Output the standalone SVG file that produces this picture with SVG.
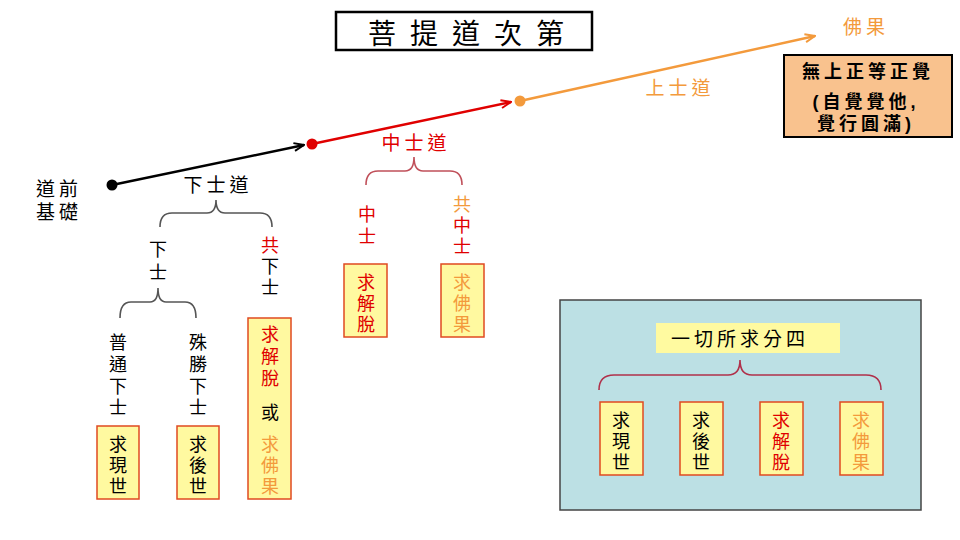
<svg xmlns="http://www.w3.org/2000/svg" width="960" height="540" viewBox="0 0 960 540">
<defs>
<style>
text{font-family:"Liberation Sans","Noto Sans CJK TC","Noto Sans CJK SC",sans-serif;font-size:18px;text-anchor:middle}
.k{fill:#000}
.r{fill:#E00000}
.o{fill:#F39A3C}
.box{fill:#FFF9A0;stroke:#E04A20;stroke-width:1.5}
.brg{fill:none;stroke:#555;stroke-width:1.6}
.brr{fill:none;stroke:#C0505A;stroke-width:1.6}
.brc{fill:none;stroke:#B0304A;stroke-width:1.6}
.h{font-size:19px;letter-spacing:4px}
.b{font-size:18px;font-weight:bold;letter-spacing:4px}
</style>
<marker id="ak" viewBox="0 0 12 10" refX="11" refY="5" markerWidth="12" markerHeight="10" markerUnits="userSpaceOnUse" orient="auto"><path d="M1,1 L11,5 L1,9" fill="none" stroke="#000" stroke-width="2"/></marker>
<marker id="ar" viewBox="0 0 12 10" refX="11" refY="5" markerWidth="12" markerHeight="10" markerUnits="userSpaceOnUse" orient="auto"><path d="M1,1 L11,5 L1,9" fill="none" stroke="#E00000" stroke-width="2"/></marker>
<marker id="ao" viewBox="0 0 12 10" refX="11" refY="5" markerWidth="12" markerHeight="10" markerUnits="userSpaceOnUse" orient="auto"><path d="M1,1 L11,5 L1,9" fill="none" stroke="#F39A3C" stroke-width="2"/></marker>
</defs>

<g id="title">
<rect x="336" y="12" width="256" height="38" fill="#fff" stroke="#000" stroke-width="2.5"/>
<text x="382 424 466 508 550" y="44" style="font-size:28px" class="k">菩提道次第</text>
</g>

<g id="panel">
<rect x="560" y="300" width="361" height="210" fill="#BCE0E4" stroke="#444" stroke-width="1.5"/>
<rect x="656" y="323" width="184" height="30" fill="#FFFAA0"/>
<text x="740" y="346" class="k h">一切所求分四</text>
</g>

<g id="connectors">
<line x1="112" y1="185" x2="304" y2="145" stroke="#000" stroke-width="2.5" marker-end="url(#ak)"/>
<line x1="312" y1="144" x2="511" y2="102" stroke="#E00000" stroke-width="2.5" marker-end="url(#ar)"/>
<line x1="520" y1="101" x2="815" y2="36" stroke="#F39A3C" stroke-width="2.5" marker-end="url(#ao)"/>
<path class="brg" d="M160,227 Q160,213 172,213 L207,213 Q216,213 216,200 Q216,213 225,213 L260,213 Q272,213 272,227"/>
<path class="brg" d="M120,318 Q120,302 131,302 L150,302 Q158,302 158,288 Q158,302 166,302 L185,302 Q196,302 196,318"/>
<path class="brr" d="M366,185 Q366,171 378,171 L405,171 Q414,171 414,157 Q414,171 423,171 L450,171 Q462,171 462,185"/>
<path class="brc" d="M599,390 Q599,375 614,375 L728,375 Q740,375 740,360 Q740,375 752,375 L866,375 Q881,375 881,390"/>
</g>

<g id="start">
<circle cx="112" cy="185" r="5.5" fill="#000"/>
<text x="59" y="196" class="k h">道前</text>
<text x="59" y="219" class="k h">基礎</text>
</g>

<g id="mid-node"><circle cx="312" cy="144" r="5.5" fill="#E00000"/></g>
<g id="top-node"><circle cx="520" cy="101" r="5.5" fill="#F39A3C"/></g>

<g id="buddha">
<text x="866" y="34" class="o h">佛果</text>
<rect x="784" y="55" width="168" height="82" fill="#F9C28E" stroke="#000" stroke-width="2"/>
<text x="868" y="78" class="k b">無上正等正覺</text>
<text x="866" y="108" class="k b">(自覺覺他,</text>
<text x="866" y="130" class="k b">覺行圓滿)</text>
</g>

<g id="upper-path"><text x="680" y="95" class="o h">上士道</text></g>

<g id="lower-path">
<text x="218" y="192" class="k h">下士道</text>
<text class="k"><tspan x="158" y="256">下</tspan><tspan x="158" y="279">士</tspan></text>
<text class="k"><tspan x="270" y="252" class="r">共</tspan><tspan x="270" y="273">下</tspan><tspan x="270" y="294">士</tspan></text>
<text class="k"><tspan x="118" y="349">普</tspan><tspan x="118" y="371">通</tspan><tspan x="118" y="393">下</tspan><tspan x="118" y="414">士</tspan></text>
<text class="k"><tspan x="198" y="349">殊</tspan><tspan x="198" y="371">勝</tspan><tspan x="198" y="393">下</tspan><tspan x="198" y="414">士</tspan></text>
</g>

<g id="box-xianshi">
<rect class="box" x="97" y="426" width="42" height="73"/>
<text class="k"><tspan x="118" y="451">求</tspan><tspan x="118" y="472">現</tspan><tspan x="118" y="493">世</tspan></text>
</g>
<g id="box-houshi">
<rect class="box" x="177" y="426" width="42" height="73"/>
<text class="k"><tspan x="198" y="451">求</tspan><tspan x="198" y="472">後</tspan><tspan x="198" y="493">世</tspan></text>
</g>
<g id="box-either">
<rect class="box" x="248" y="318" width="43" height="181"/>
<text class="r"><tspan x="270" y="341">求</tspan><tspan x="270" y="363">解</tspan><tspan x="270" y="385">脫</tspan></text>
<text x="270" y="419" class="k">或</text>
<text class="o"><tspan x="270" y="451">求</tspan><tspan x="270" y="472">佛</tspan><tspan x="270" y="493">果</tspan></text>
</g>

<g id="middle-path">
<text x="416" y="150" class="r h">中士道</text>
<text class="r"><tspan x="367" y="221">中</tspan><tspan x="367" y="243">士</tspan></text>
<text class="r"><tspan x="462" y="211" class="o">共</tspan><tspan x="462" y="232">中</tspan><tspan x="462" y="253">士</tspan></text>
</g>
<g id="box-jietuo">
<rect class="box" x="344" y="264" width="43" height="73"/>
<text class="r"><tspan x="366" y="289">求</tspan><tspan x="366" y="310">解</tspan><tspan x="366" y="331">脫</tspan></text>
</g>
<g id="box-fuguo">
<rect class="box" x="441" y="264" width="43" height="73"/>
<text class="o"><tspan x="462" y="289">求</tspan><tspan x="462" y="310">佛</tspan><tspan x="462" y="331">果</tspan></text>
</g>

<g id="p-xianshi">
<rect class="box" x="600" y="402" width="43" height="73"/>
<text class="k"><tspan x="621" y="427">求</tspan><tspan x="621" y="448">現</tspan><tspan x="621" y="469">世</tspan></text>
</g>
<g id="p-houshi">
<rect class="box" x="680" y="402" width="43" height="73"/>
<text class="k"><tspan x="701" y="427">求</tspan><tspan x="701" y="448">後</tspan><tspan x="701" y="469">世</tspan></text>
</g>
<g id="p-jietuo">
<rect class="box" x="760" y="402" width="43" height="73"/>
<text class="r"><tspan x="781" y="427">求</tspan><tspan x="781" y="448">解</tspan><tspan x="781" y="469">脫</tspan></text>
</g>
<g id="p-fuguo">
<rect class="box" x="840" y="402" width="43" height="73"/>
<text class="o"><tspan x="861" y="427">求</tspan><tspan x="861" y="448">佛</tspan><tspan x="861" y="469">果</tspan></text>
</g>
</svg>
